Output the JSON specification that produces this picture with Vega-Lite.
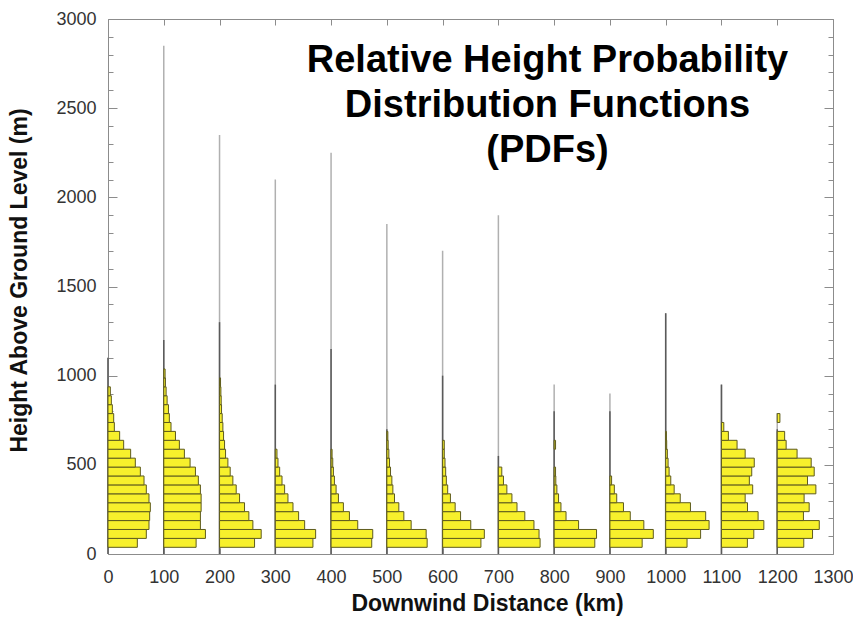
{
  "$schema": "https://vega.github.io/schema/vega-lite/v6.json",
  "width": 725,
  "height": 535,
  "autosize": {"type": "none"},
  "padding": {"left": 108, "top": 19, "right": 20, "bottom": 72},
  "background": "white",
  "title": {
    "text": ["Relative Height Probability", "Distribution Functions", "(PDFs)"],
    "fontSize": 38, "fontWeight": "bold", "font": "Liberation Sans", "color": "black",
    "lineHeight": 45, "anchor": "middle", "frame": "group", "baseline": "top",
    "offset": 0, "dx": 77, "dy": 160
  },
  "datasets": {
    "stems": [
      {"d": 0, "dark": 1100, "max": 1100},
      {"d": 100, "dark": 1200, "max": 2850},
      {"d": 200, "dark": 1300, "max": 2350},
      {"d": 300, "dark": 950, "max": 2100},
      {"d": 400, "dark": 1150, "max": 2250},
      {"d": 500, "dark": 700, "max": 1850},
      {"d": 600, "dark": 1000, "max": 1700},
      {"d": 700, "dark": 550, "max": 1900},
      {"d": 800, "dark": 800, "max": 950},
      {"d": 900, "dark": 800, "max": 900},
      {"d": 1000, "dark": 1350, "max": 1350},
      {"d": 1100, "dark": 950, "max": 950},
      {"d": 1200, "dark": 700, "max": 790}
    ],
    "bars": [
      {"d":0,"lo":37.5,"hi":87.5,"x1":52.6},{"d":0,"lo":87.5,"hi":137.5,"x1":68.7},{"d":0,"lo":137.5,"hi":187.5,"x1":73.5},{"d":0,"lo":187.5,"hi":237.5,"x1":74.7},{"d":0,"lo":237.5,"hi":287.5,"x1":75.9},{"d":0,"lo":287.5,"hi":337.5,"x1":73.5},{"d":0,"lo":337.5,"hi":387.5,"x1":68.7},{"d":0,"lo":387.5,"hi":437.5,"x1":64.6},{"d":0,"lo":437.5,"hi":487.5,"x1":58},{"d":0,"lo":487.5,"hi":537.5,"x1":49},{"d":0,"lo":537.5,"hi":587.5,"x1":40.6},{"d":0,"lo":587.5,"hi":637.5,"x1":28.1},{"d":0,"lo":637.5,"hi":687.5,"x1":20.9},{"d":0,"lo":687.5,"hi":737.5,"x1":11.4},{"d":0,"lo":737.5,"hi":787.5,"x1":10.2},{"d":0,"lo":787.5,"hi":837.5,"x1":7.8},{"d":0,"lo":837.5,"hi":887.5,"x1":6},{"d":0,"lo":887.5,"hi":937.5,"x1":4.2},
      {"d":100,"lo":37.5,"hi":87.5,"x1":158},{"d":100,"lo":87.5,"hi":137.5,"x1":174.7},{"d":100,"lo":137.5,"hi":187.5,"x1":165.7},{"d":100,"lo":187.5,"hi":237.5,"x1":165.7},{"d":100,"lo":237.5,"hi":287.5,"x1":167},{"d":100,"lo":287.5,"hi":337.5,"x1":167},{"d":100,"lo":337.5,"hi":387.5,"x1":165.7},{"d":100,"lo":387.5,"hi":437.5,"x1":162},{"d":100,"lo":437.5,"hi":487.5,"x1":156.8},{"d":100,"lo":487.5,"hi":537.5,"x1":147.2},{"d":100,"lo":537.5,"hi":587.5,"x1":137},{"d":100,"lo":587.5,"hi":637.5,"x1":128},{"d":100,"lo":637.5,"hi":687.5,"x1":121},{"d":100,"lo":687.5,"hi":737.5,"x1":113},{"d":100,"lo":737.5,"hi":787.5,"x1":110},{"d":100,"lo":787.5,"hi":837.5,"x1":108.4},{"d":100,"lo":837.5,"hi":887.5,"x1":106},{"d":100,"lo":887.5,"hi":937.5,"x1":104.2},{"d":100,"lo":937.5,"hi":987.5,"x1":103},{"d":100,"lo":987.5,"hi":1037.5,"x1":102.4},
      {"d":200,"lo":37.5,"hi":87.5,"x1":262.8},{"d":200,"lo":87.5,"hi":137.5,"x1":274.7},{"d":200,"lo":137.5,"hi":187.5,"x1":259.8},{"d":200,"lo":187.5,"hi":237.5,"x1":252.6},{"d":200,"lo":237.5,"hi":287.5,"x1":244.8},{"d":200,"lo":287.5,"hi":337.5,"x1":235.9},{"d":200,"lo":337.5,"hi":387.5,"x1":229.9},{"d":200,"lo":387.5,"hi":437.5,"x1":223.9},{"d":200,"lo":437.5,"hi":487.5,"x1":219.1},{"d":200,"lo":487.5,"hi":537.5,"x1":215},{"d":200,"lo":537.5,"hi":587.5,"x1":210.8},{"d":200,"lo":587.5,"hi":637.5,"x1":209},{"d":200,"lo":637.5,"hi":687.5,"x1":207.2},{"d":200,"lo":687.5,"hi":737.5,"x1":206},{"d":200,"lo":737.5,"hi":787.5,"x1":204.8},{"d":200,"lo":787.5,"hi":837.5,"x1":203.6},{"d":200,"lo":837.5,"hi":887.5,"x1":203},{"d":200,"lo":887.5,"hi":937.5,"x1":202.4},{"d":200,"lo":937.5,"hi":987.5,"x1":201.8},
      {"d":300,"lo":37.5,"hi":87.5,"x1":367.5},{"d":300,"lo":87.5,"hi":137.5,"x1":372.3},{"d":300,"lo":137.5,"hi":187.5,"x1":352.6},{"d":300,"lo":187.5,"hi":237.5,"x1":341.8},{"d":300,"lo":237.5,"hi":287.5,"x1":331.7},{"d":300,"lo":287.5,"hi":337.5,"x1":322.7},{"d":300,"lo":337.5,"hi":387.5,"x1":316.7},{"d":300,"lo":387.5,"hi":437.5,"x1":312},{"d":300,"lo":437.5,"hi":487.5,"x1":307.8},{"d":300,"lo":487.5,"hi":537.5,"x1":304.8},{"d":300,"lo":537.5,"hi":587.5,"x1":303},
      {"d":400,"lo":37.5,"hi":87.5,"x1":472.9},{"d":400,"lo":87.5,"hi":137.5,"x1":474.7},{"d":400,"lo":137.5,"hi":187.5,"x1":447.8},{"d":400,"lo":187.5,"hi":237.5,"x1":432.9},{"d":400,"lo":237.5,"hi":287.5,"x1":422.1},{"d":400,"lo":287.5,"hi":337.5,"x1":413.2},{"d":400,"lo":337.5,"hi":387.5,"x1":409},{"d":400,"lo":387.5,"hi":437.5,"x1":406},{"d":400,"lo":437.5,"hi":487.5,"x1":404.2},{"d":400,"lo":487.5,"hi":537.5,"x1":403},{"d":400,"lo":537.5,"hi":587.5,"x1":401.8},
      {"d":500,"lo":37.5,"hi":87.5,"x1":572.3},{"d":500,"lo":87.5,"hi":137.5,"x1":570.5},{"d":500,"lo":137.5,"hi":187.5,"x1":543.6},{"d":500,"lo":187.5,"hi":237.5,"x1":530.5},{"d":500,"lo":237.5,"hi":287.5,"x1":521.5},{"d":500,"lo":287.5,"hi":337.5,"x1":513.7},{"d":500,"lo":337.5,"hi":387.5,"x1":510.8},{"d":500,"lo":387.5,"hi":437.5,"x1":509},{"d":500,"lo":437.5,"hi":487.5,"x1":506.6},{"d":500,"lo":487.5,"hi":537.5,"x1":504.8},{"d":500,"lo":537.5,"hi":587.5,"x1":503.6},{"d":500,"lo":587.5,"hi":637.5,"x1":502.4},{"d":500,"lo":637.5,"hi":687.5,"x1":501.8},
      {"d":600,"lo":37.5,"hi":87.5,"x1":668.7},{"d":600,"lo":87.5,"hi":137.5,"x1":674.8},{"d":600,"lo":137.5,"hi":187.5,"x1":650.5},{"d":600,"lo":187.5,"hi":237.5,"x1":632.2},{"d":600,"lo":237.5,"hi":287.5,"x1":622.5},{"d":600,"lo":287.5,"hi":337.5,"x1":614},{"d":600,"lo":337.5,"hi":387.5,"x1":609.1},{"d":600,"lo":387.5,"hi":437.5,"x1":606.7},{"d":600,"lo":437.5,"hi":487.5,"x1":605.5},{"d":600,"lo":487.5,"hi":537.5,"x1":604.3},{"d":600,"lo":537.5,"hi":587.5,"x1":603},{"d":600,"lo":587.5,"hi":637.5,"x1":603},
      {"d":700,"lo":37.5,"hi":87.5,"x1":774.8},{"d":700,"lo":87.5,"hi":137.5,"x1":772.9},{"d":700,"lo":137.5,"hi":187.5,"x1":763.8},{"d":700,"lo":187.5,"hi":237.5,"x1":747.4},{"d":700,"lo":237.5,"hi":287.5,"x1":733.4},{"d":700,"lo":287.5,"hi":337.5,"x1":724.3},{"d":700,"lo":337.5,"hi":387.5,"x1":715.2},{"d":700,"lo":387.5,"hi":437.5,"x1":709.1},{"d":700,"lo":437.5,"hi":487.5,"x1":706.1},
      {"d":800,"lo":37.5,"hi":87.5,"x1":872.9},{"d":800,"lo":87.5,"hi":137.5,"x1":876},{"d":800,"lo":137.5,"hi":187.5,"x1":843.8},{"d":800,"lo":187.5,"hi":237.5,"x1":821.3},{"d":800,"lo":237.5,"hi":287.5,"x1":812.2},{"d":800,"lo":287.5,"hi":337.5,"x1":807.9},{"d":800,"lo":337.5,"hi":387.5,"x1":804.9},{"d":800,"lo":387.5,"hi":437.5,"x1":803},{"d":800,"lo":437.5,"hi":487.5,"x1":802.5},{"d":800,"lo":587.5,"hi":637.5,"x1":802.5},
      {"d":900,"lo":37.5,"hi":87.5,"x1":957.8},{"d":900,"lo":87.5,"hi":137.5,"x1":977.8},{"d":900,"lo":137.5,"hi":187.5,"x1":960.8},{"d":900,"lo":187.5,"hi":237.5,"x1":936.5},{"d":900,"lo":237.5,"hi":287.5,"x1":924.3},{"d":900,"lo":287.5,"hi":337.5,"x1":912.2},{"d":900,"lo":337.5,"hi":387.5,"x1":907.9},{"d":900,"lo":387.5,"hi":437.5,"x1":903},
      {"d":1000,"lo":37.5,"hi":87.5,"x1":1038.3},{"d":1000,"lo":87.5,"hi":137.5,"x1":1062.6},{"d":1000,"lo":137.5,"hi":187.5,"x1":1077.8},{"d":1000,"lo":187.5,"hi":237.5,"x1":1071.7},{"d":1000,"lo":237.5,"hi":287.5,"x1":1044.4},{"d":1000,"lo":287.5,"hi":337.5,"x1":1026.1},{"d":1000,"lo":337.5,"hi":387.5,"x1":1015.2},{"d":1000,"lo":387.5,"hi":437.5,"x1":1009.1},{"d":1000,"lo":437.5,"hi":487.5,"x1":1006.1},{"d":1000,"lo":487.5,"hi":537.5,"x1":1004.3},{"d":1000,"lo":537.5,"hi":587.5,"x1":1003},{"d":1000,"lo":587.5,"hi":637.5,"x1":1001.8},{"d":1000,"lo":637.5,"hi":687.5,"x1":1001.2},
      {"d":1100,"lo":37.5,"hi":87.5,"x1":1146.5},{"d":1100,"lo":87.5,"hi":137.5,"x1":1158},{"d":1100,"lo":137.5,"hi":187.5,"x1":1176},{"d":1100,"lo":187.5,"hi":237.5,"x1":1165.7},{"d":1100,"lo":237.5,"hi":287.5,"x1":1146.7},{"d":1100,"lo":287.5,"hi":337.5,"x1":1142.5},{"d":1100,"lo":337.5,"hi":387.5,"x1":1156},{"d":1100,"lo":387.5,"hi":437.5,"x1":1150},{"d":1100,"lo":437.5,"hi":487.5,"x1":1154.3},{"d":1100,"lo":487.5,"hi":537.5,"x1":1158.8},{"d":1100,"lo":537.5,"hi":587.5,"x1":1142.5},{"d":1100,"lo":587.5,"hi":637.5,"x1":1128},{"d":1100,"lo":637.5,"hi":687.5,"x1":1112.4},{"d":1100,"lo":687.5,"hi":737.5,"x1":1104.2},
      {"d":1200,"lo":37.5,"hi":87.5,"x1":1247.6},{"d":1200,"lo":87.5,"hi":137.5,"x1":1263.3},{"d":1200,"lo":137.5,"hi":187.5,"x1":1275.4},{"d":1200,"lo":187.5,"hi":237.5,"x1":1247},{"d":1200,"lo":237.5,"hi":287.5,"x1":1257.3},{"d":1200,"lo":287.5,"hi":337.5,"x1":1248.2},{"d":1200,"lo":337.5,"hi":387.5,"x1":1269.3},{"d":1200,"lo":387.5,"hi":437.5,"x1":1254.3},{"d":1200,"lo":437.5,"hi":487.5,"x1":1266.3},{"d":1200,"lo":487.5,"hi":537.5,"x1":1260.9},{"d":1200,"lo":537.5,"hi":587.5,"x1":1235.6},{"d":1200,"lo":587.5,"hi":637.5,"x1":1216},{"d":1200,"lo":637.5,"hi":687.5,"x1":1213.3},{"d":1200,"lo":737.5,"hi":787.5,"x1":1204.8}
    ]
  },
  "layer": [
    {
      "data": {"name": "stems"},
      "mark": {"type": "rule", "color": "#b0b0b0", "strokeWidth": 1.5},
      "encoding": {
        "x": {"field": "d", "type": "quantitative", "scale": {"domain": [0, 1300], "nice": false},
              "axis": {"orient": "top", "values": [0,100,200,300,400,500,600,700,800,900,1000,1100,1200,1300], "labels": false, "grid": false, "domain": false, "tickSize": -6, "tickColor": "#8c8c8c", "title": null}},
        "y": {"field": "max", "type": "quantitative", "scale": {"domain": [0, 3000], "nice": false},
              "axis": {"orient": "right", "values": [0,100,200,300,400,500,600,700,800,900,1000,1100,1200,1300,1400,1500,1600,1700,1800,1900,2000,2100,2200,2300,2400,2500,2600,2700,2800,2900,3000], "labels": false, "grid": false, "domain": false, "tickColor": "#8c8c8c", "tickSize": {"condition": {"test": "datum.value % 500 === 0", "value": -9}, "value": -5}, "title": null}},
        "y2": {"datum": 0}
      }
    },
    {
      "data": {"name": "stems"},
      "mark": {"type": "rule", "color": "#5a5a5a", "strokeWidth": 1.5},
      "encoding": {
        "x": {"field": "d", "type": "quantitative", "axis": null},
        "y": {"field": "dark", "type": "quantitative", "axis": null},
        "y2": {"datum": 0}
      }
    },
    {
      "data": {"name": "bars"},
      "mark": {"type": "rect", "fill": "#f7f02c", "stroke": "#5e5b1e", "strokeWidth": 1},
      "encoding": {
        "x": {"field": "d", "type": "quantitative",
              "axis": {"orient": "bottom", "values": [0,100,200,300,400,500,600,700,800,900,1000,1100,1200,1300], "format": "d", "labelOverlap": false, "labelFlush": false, "grid": false, "domain": false, "tickSize": -6, "tickColor": "#8c8c8c", "labelFontSize": 18, "labelColor": "#333333", "labelPadding": 20, "labelFont": "Liberation Sans", "title": "Downwind Distance (km)", "titleFontSize": 23, "titleFontWeight": "bold", "titleColor": "#111111", "titleFont": "Liberation Sans", "titlePadding": 6, "titleX": 379}},
        "x2": {"field": "x1"},
        "y": {"field": "lo", "type": "quantitative",
              "axis": {"orient": "left", "values": [0,100,200,300,400,500,600,700,800,900,1000,1100,1200,1300,1400,1500,1600,1700,1800,1900,2000,2100,2200,2300,2400,2500,2600,2700,2800,2900,3000], "format": "d", "labelExpr": "datum.value % 500 === 0 ? datum.label : ''", "labelOverlap": false, "labelFlush": false, "grid": false, "domain": false, "tickColor": "#8c8c8c", "tickSize": {"condition": {"test": "datum.value % 500 === 0", "value": -9}, "value": -5}, "labelFontSize": 18, "labelColor": "#333333", "labelPadding": 21, "labelFont": "Liberation Sans", "title": "Height Above Ground Level (m)", "titleFontSize": 23, "titleFontWeight": "bold", "titleColor": "#111111", "titleFont": "Liberation Sans", "titlePadding": 24, "titleY": 261}},
        "y2": {"field": "hi"}
      }
    }
  ],
  "resolve": {"axis": {"x": "independent", "y": "independent"}},
  "config": {"view": {"stroke": "#8c8c8c", "strokeWidth": 1}, "font": "Liberation Sans", "axis": {"grid": false}}
}
